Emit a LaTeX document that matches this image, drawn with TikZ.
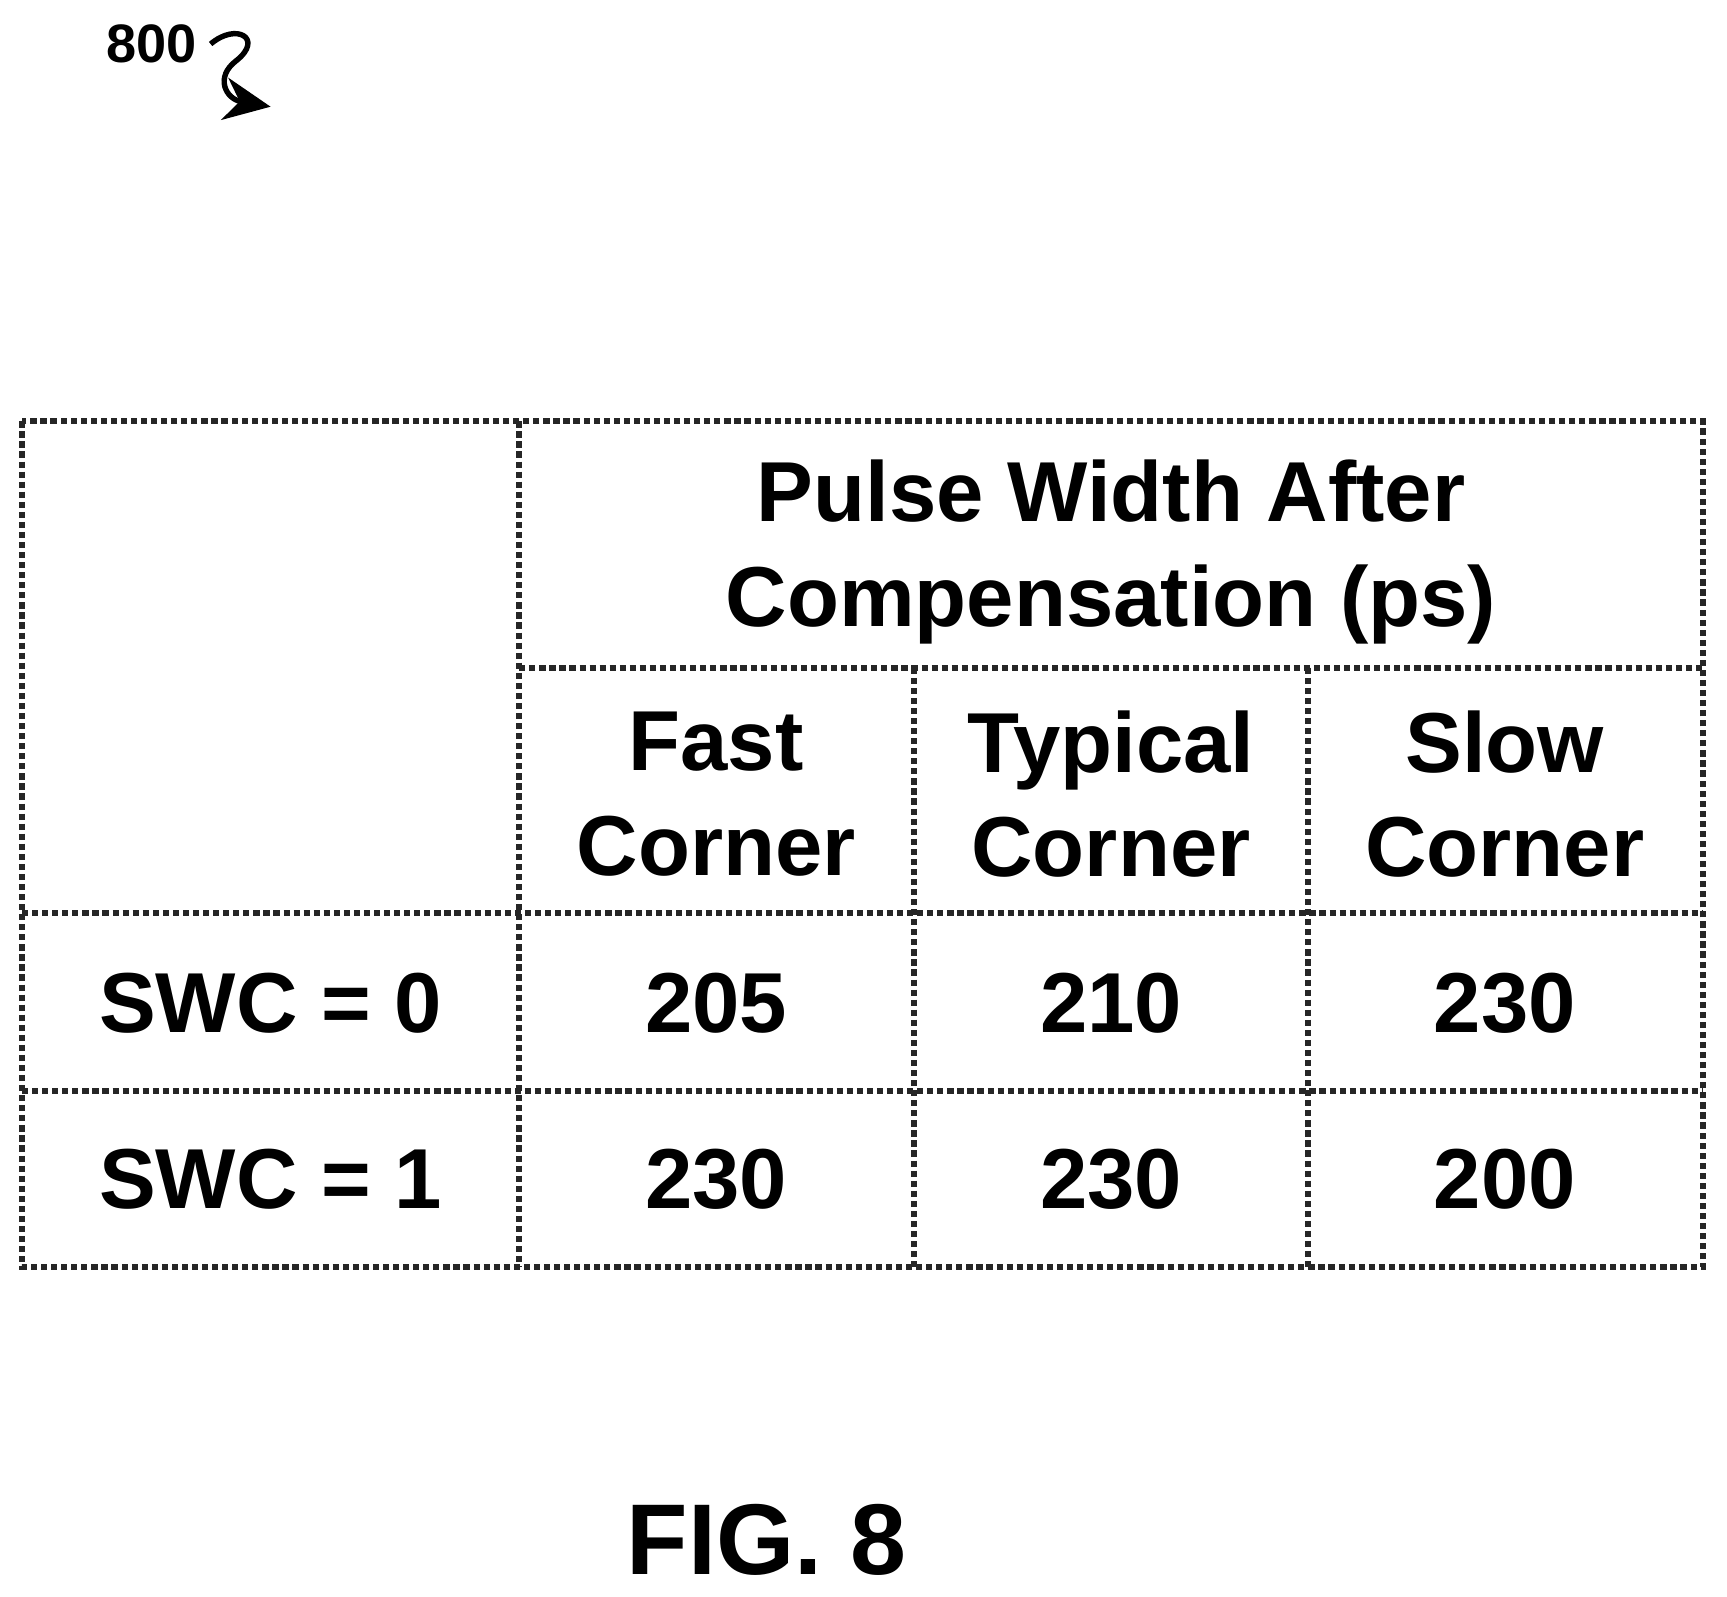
\documentclass[tikz,border=0pt]{standalone}
\usepackage{fontspec}
\setmainfont{Liberation Sans}
\usetikzlibrary{arrows.meta}
\tikzset{
  cell/.style={font=\bfseries\fontsize{22}{27}\selectfont,align=center},
  grid/.style={line width=1.6pt,densely dotted,black!85}
}
\begin{document}
\begin{tikzpicture}[x=0.01cm,y=-0.01cm]
\useasboundingbox (0,0) rectangle (1570,1451);
% ligne de référence
\node[font=\bfseries\fontsize{14}{16}\selectfont] (ref) at (138,40) {800};
\coordinate (tip) at (246,97);
\draw[line width=1.4pt,-{Stealth[length=12pt,width=11pt]}] (ref.east) .. controls (215,20) and (240,35) .. (215,55) .. controls (195,70) and (205,90) .. (tip);
% tableau
\draw[grid] (20,383) rectangle (1548,1152);
\draw[grid] (472,383) -- (472,1152);
\draw[grid] (472,607) -- (1548,607);
\draw[grid] (831,607) -- (831,1152) (1189,607) -- (1189,1152);
\draw[grid] (20,830) -- (1548,830) (20,992) -- (1548,992);
\node[cell] (head) at (1010,502) {Pulse Width After\\Compensation (ps)};
\node[cell] (fast) at (651,722) {Fast\\Corner};
\node[cell] (typ) at (1010,722) {Typical\\Corner};
\node[cell] (slow) at (1368,722) {Slow\\Corner};
\node[cell] (s0) at (246,912) {SWC = 0};
\node[cell] (s1) at (246,1072) {SWC = 1};
\node[cell] at (651,912) {205};
\node[cell] at (1010,912) {210};
\node[cell] at (1368,912) {230};
\node[cell] at (651,1072) {230};
\node[cell] at (1010,1072) {230};
\node[cell] at (1368,1072) {200};
\node[font=\bfseries\fontsize{26}{30}\selectfont] (fig) at (697,1400) {FIG. 8};
\end{tikzpicture}
\end{document}
